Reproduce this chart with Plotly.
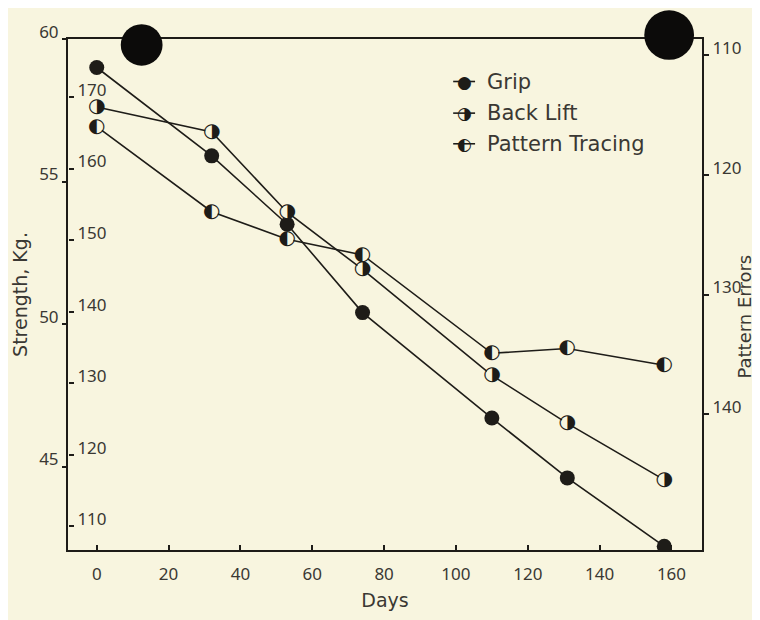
import plotly.graph_objects as go

# ---- data ----
days = [0, 32, 53, 74, 110, 131, 158]
grip_kg = [59.0, 55.9, 53.5, 50.4, 46.7, 44.6, 42.2]
back_lift = [168.6, 165.1, 153.9, 145.9, 131.1, 124.4, 116.5]
pattern_errors = [116.0, 123.1, 125.4, 126.7, 134.9, 134.5, 135.9]

day_ticks = [0, 20, 40, 60, 80, 100, 120, 140, 160]
kg_ticks = [45, 50, 55, 60]
back_ticks = [110, 120, 130, 140, 150, 160, 170]
err_ticks = [110, 120, 130, 140]

series_names = ["Grip", "Back Lift", "Pattern Tracing"]

INK = "#1e1c18"
TXT = "#3a3833"
BG = "#f8f5df"
FONT = "Noto Sans"
WIDE = "DejaVu Sans"

# ---- figure geometry (page has an 8px body margin) ----
W, H = 752, 612
ML, MR, MT, MB = 57, 58, 29, 66
PW, PH = W - ML - MR, H - MT - MB
OFF = 8


def px(x):  # page pixel -> paper
    return (x - OFF - ML) / PW


def py(y):  # page pixel -> paper
    return (H - MB - (y - OFF)) / PH


fig = go.Figure()

fig.add_trace(go.Scatter(
    x=days, y=grip_kg, yaxis="y", mode="lines+markers", name=series_names[0],
    line=dict(color=INK, width=1.6),
    marker=dict(size=15, color=INK), showlegend=False))

fig.add_trace(go.Scatter(
    x=days, y=back_lift, yaxis="y2", mode="lines+markers+text", name=series_names[1],
    line=dict(color=INK, width=1.6),
    marker=dict(size=13, color=BG),
    text=["\u25d1"] * len(days), textposition="middle center",
    textfont=dict(size=20, color=INK, family="DejaVu Sans"), showlegend=False))

fig.add_trace(go.Scatter(
    x=days, y=pattern_errors, yaxis="y3", mode="lines+markers+text", name=series_names[2],
    line=dict(color=INK, width=1.6),
    marker=dict(size=13, color=BG),
    text=["\u25d0"] * len(days), textposition="middle center",
    textfont=dict(size=20, color=INK, family="DejaVu Sans"), showlegend=False))

tickfont = dict(family=FONT, size=17, color=TXT)
titlefont = dict(family=WIDE, size=19, color=TXT)

fig.update_layout(
    width=W, height=H,
    margin=dict(l=ML, r=MR, t=MT, b=MB),
    paper_bgcolor=BG, plot_bgcolor=BG,
    font=dict(family=FONT, size=16, color=TXT),
    showlegend=False,
    xaxis=dict(
        range=[-8, 168.5], tickvals=day_ticks, ticks="inside", ticklen=5,
        tickcolor=INK, tickwidth=1.5, showline=True, linecolor=INK, linewidth=2,
        mirror=True, showgrid=False, zeroline=False, tickfont=tickfont,
        ticklabelstandoff=8,
        title=dict(text="Days", font=titlefont, standoff=9),
    ),
    yaxis=dict(
        range=[42.07, 60], tickvals=kg_ticks, ticks="outside", ticklen=4,
        tickcolor=INK, tickwidth=1.5, showline=True, linecolor=INK, linewidth=2,
        showgrid=False, zeroline=False, tickfont=tickfont, ticklabelstandoff=0,
        ticklabelshift=-7,
        title=dict(text="Strength, Kg.", font=titlefont, standoff=6),
    ),
    yaxis2=dict(
        overlaying="y", anchor="free", position=0, side="right",
        range=[106.7, 178.1], tickvals=back_ticks, ticks="outside", ticklen=5,
        tickcolor=INK, tickwidth=1.5,
        showline=False, showgrid=False, zeroline=False, tickfont=tickfont,
        ticklabelstandoff=0, ticklabelshift=-7,
    ),
    yaxis3=dict(
        overlaying="y", anchor="x", side="right",
        range=[151.3, 108.7], tickvals=err_ticks, ticks="outside", ticklen=5,
        tickcolor=INK, tickwidth=1.5, showline=True, linecolor=INK, linewidth=2,
        showgrid=False, zeroline=False, tickfont=tickfont, ticklabelstandoff=0,
        ticklabelshift=7,
    ),
)

# right axis title as a rotated annotation (keeps it inside the page)
fig.add_annotation(xref="paper", yref="paper", x=px(745), y=py(318),
                   text="Pattern Errors", textangle=-90, showarrow=False,
                   xanchor="center", yanchor="middle",
                   font=dict(family=WIDE, size=18, color=TXT))

# ---- legend drawn as annotations ----
glyphs = ["\u25cf", "\u25d1", "\u25d0"]
rows_y = [80, 112, 143]
for name, g, ry in zip(series_names, glyphs, rows_y):
    fig.add_shape(type="line", xref="paper", yref="paper",
                  x0=px(452), x1=px(474), y0=py(ry), y1=py(ry),
                  line=dict(color=INK, width=1.6))
    fig.add_annotation(xref="paper", yref="paper", x=px(463), y=py(ry),
                       text=g, showarrow=False, xanchor="center", yanchor="middle",
                       font=dict(family="DejaVu Sans", size=17, color=INK))
    fig.add_annotation(xref="paper", yref="paper", x=px(484), y=py(ry),
                       text=name, showarrow=False, xanchor="left", yanchor="middle",
                       font=dict(family=WIDE, size=21, color=TXT))

# ---- binder-hole punches seen in the scan ----
for cx, cy, r in [(139, 43, 21), (669, 33, 25)]:
    fig.add_shape(type="circle", xref="paper", yref="paper", layer="above",
                  x0=px(cx - r), x1=px(cx + r), y0=py(cy + r), y1=py(cy - r),
                  fillcolor="#0c0b0a", line=dict(width=0))

fig.write_html("out.html")
